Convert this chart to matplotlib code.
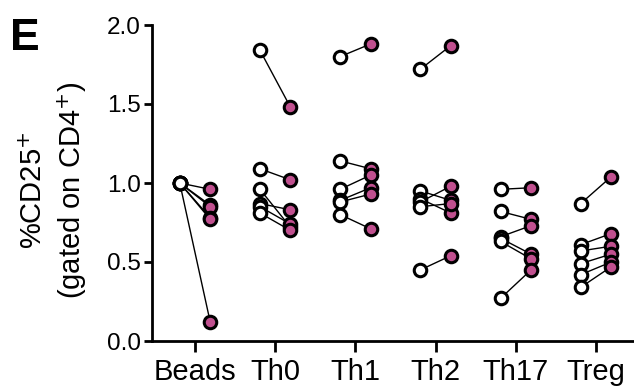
import matplotlib
matplotlib.use("Agg")
import matplotlib.pyplot as plt

plt.rcParams['font.family'] = ['Liberation Sans', 'DejaVu Sans']

categories = ["Beads", "Th0", "Th1", "Th2", "Th17", "Treg"]
# values before (open circles) and after (filled circles), paired per donor
before = {
    "Beads": [1.00, 1.00, 1.00, 1.00, 1.00, 1.00],
    "Th0":   [1.84, 1.09, 0.96, 0.87, 0.85, 0.81],
    "Th1":   [1.80, 1.14, 0.96, 0.89, 0.88, 0.80],
    "Th2":   [1.72, 0.95, 0.90, 0.88, 0.85, 0.45],
    "Th17":  [0.96, 0.82, 0.66, 0.65, 0.63, 0.27],
    "Treg":  [0.87, 0.61, 0.57, 0.49, 0.42, 0.34],
}
after = {
    "Beads": [0.96, 0.86, 0.85, 0.78, 0.77, 0.12],
    "Th0":   [1.48, 1.02, 0.72, 0.83, 0.74, 0.70],
    "Th1":   [1.88, 1.09, 1.05, 0.97, 0.93, 0.71],
    "Th2":   [1.87, 0.89, 0.81, 0.98, 0.87, 0.54],
    "Th17":  [0.97, 0.77, 0.73, 0.55, 0.52, 0.45],
    "Treg":  [1.04, 0.68, 0.60, 0.55, 0.50, 0.47],
}
yticks = [0.0, 0.5, 1.0, 1.5, 2.0]

pink = "#C0508F"
fig = plt.figure(figsize=(6.34, 3.89), dpi=100)
ax = fig.add_axes([152/634, 1-341/389, (634-152)/634, (341-25)/389])

off = 0.19
for i, c in enumerate(categories):
    for b, a in zip(before[c], after[c]):
        ax.plot([i - off, i + off], [b, a], color="black", lw=1.0, zorder=1)
    ax.plot([i - off] * len(before[c]), before[c], 'o', ms=9, mfc="white",
            mec="black", mew=2.2, ls='none', zorder=2, clip_on=False)
    ax.plot([i + off] * len(after[c]), after[c], 'o', ms=9, mfc=pink,
            mec="black", mew=2.2, ls='none', zorder=3, clip_on=False)

ax.set_xlim((152 - 195) / 80.2, (634 - 195) / 80.2)
ax.set_ylim(0, 2.0)
ax.set_xticks(range(len(categories)))
ax.set_xticklabels(categories, fontsize=21)
ax.set_yticks(yticks)
ax.set_yticklabels([f"{v:.1f}" for v in yticks], fontsize=17.5)
for s in ["top", "right"]:
    ax.spines[s].set_visible(False)
for s in ["left", "bottom"]:
    ax.spines[s].set_linewidth(2)
ax.tick_params(axis='y', length=6, width=2, pad=2)
ax.tick_params(axis='x', length=8, width=2, pad=4)

fig.text(54.5/634, 1-190/389, "%CD25$^{+}$\n(gated on CD4$^{+}$)", fontsize=21,
         rotation=90, ha="center", va="center", linespacing=1.25,
         multialignment="center")
fig.text(10/634, 1-50/389, "E", fontsize=32, fontweight="bold", ha="left", va="baseline")

fig.savefig("out.png", dpi=100)
